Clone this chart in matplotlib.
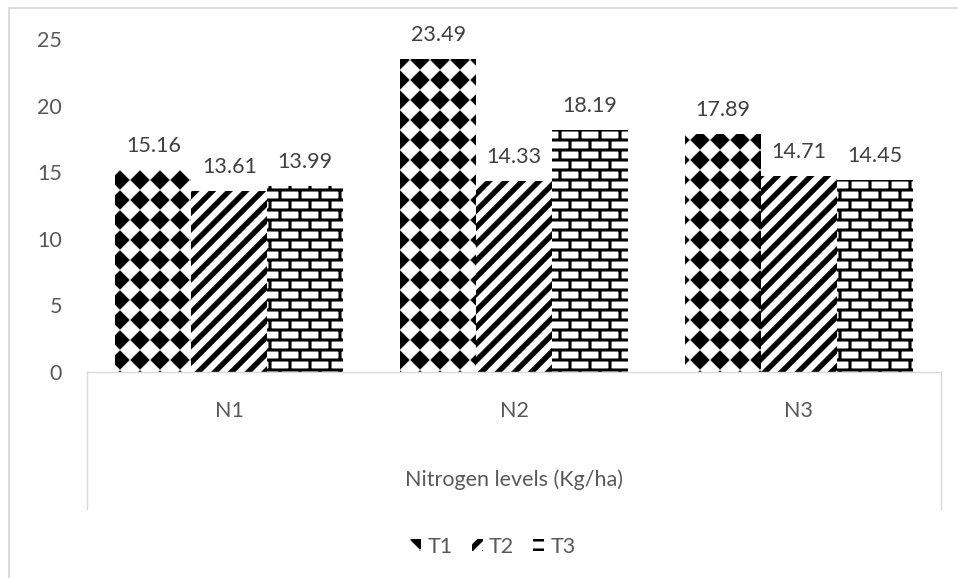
import warnings
import numpy as np
import matplotlib
matplotlib.use('Agg')
import matplotlib.pyplot as plt
import matplotlib.hatch as mhatch
from matplotlib.path import Path
from matplotlib.lines import Line2D

warnings.filterwarnings('ignore')

levels = ['N1', 'N2', 'N3']
series = ['T1', 'T2', 'T3']
T1 = [15.16, 23.49, 17.89]
T2 = [13.61, 14.33, 14.71]
T3 = [13.99, 18.19, 14.45]
yticks = [0, 5, 10, 15, 20, 25]


# custom fill patterns (Excel style), drawn as filled polygons in the hatch tile
class PolyHatch(mhatch.HatchPatternBase):
    char = None

    def __init__(self, hatch, density):
        self.polys = self.polygons() if (hatch and self.char in hatch) else []
        self.num_vertices = sum(len(p) + 1 for p in self.polys)

    def polygons(self):
        return []

    def set_vertices_and_codes(self, vertices, codes):
        i = 0
        for p in self.polys:
            n = len(p)
            vertices[i:i + n] = p
            vertices[i + n] = p[0]
            codes[i] = Path.MOVETO
            codes[i + 1:i + n] = Path.LINETO
            codes[i + n] = Path.CLOSEPOLY
            i += n + 1


class Diamonds(PolyHatch):
    char = 'd'

    def polygons(self):
        n = 5
        h = 0.47 / n
        out = []
        for i in range(n + 1):
            for j in range(n + 1):
                cx, cy = i / n, j / n
                out.append([(cx - h, cy), (cx, cy - h), (cx + h, cy), (cx, cy + h)])
        return out


class Stripes(PolyHatch):
    char = 's'

    def polygons(self):
        m = 6
        w = 0.42 / m
        out = []
        for k in range(-8, 8):
            c = k / m
            out.append([(c - 0.2, -0.2), (c + w - 0.2, -0.2),
                        (c + w + 1.2, 1.2), (c + 1.2, 1.2)])
        return out


class Bricks(PolyHatch):
    char = 'b'

    def polygons(self):
        rows, cols, t = 10, 5, 0.024
        out = []
        for j in range(rows + 1):
            y = j / rows
            out.append([(-0.1, y - t / 2), (1.1, y - t / 2), (1.1, y + t / 2), (-0.1, y + t / 2)])
        for j in range(rows):
            off = 0 if j % 2 == 0 else 0.5 / cols
            for i in range(-1, cols + 1):
                x = i / cols + off
                out.append([(x - t / 2, j / rows), (x + t / 2, j / rows),
                            (x + t / 2, (j + 1) / rows), (x - t / 2, (j + 1) / rows)])
        return out


mhatch._hatch_types.extend([Diamonds, Stripes, Bricks])

plt.rcParams['font.family'] = ['Lato', 'DejaVu Sans']
plt.rcParams['hatch.linewidth'] = 0.3
fs = 15.5

fig = plt.figure(figsize=(9.58, 5.78), dpi=100)
ax = fig.add_axes([87 / 958, 206 / 578, 854 / 958, 333 / 578])

x = np.arange(len(levels))
w = 0.8 / 3
bars = []
for i, (vals, h) in enumerate(zip([T1, T2, T3], ['d', 's', 'b'])):
    b = ax.bar(x + (i - 1) * w, vals, w, facecolor='white', edgecolor='black',
               linewidth=0, hatch=h, label=series[i])
    ax.bar_label(b, labels=['%.2f' % v for v in vals], padding=10,
                 fontsize=fs, color='#404040')
    bars.append(b)

ax.set_xlim(-0.5, 2.5)
ax.set_ylim(0, 25)
ax.set_yticks(yticks)
ax.set_xticks(x)
ax.set_xticklabels(levels)
ax.tick_params(axis='y', length=0, pad=18, labelsize=fs, labelcolor='#595959')
ax.tick_params(axis='x', length=0, pad=21, labelsize=fs, labelcolor='#595959')
for s in ['top', 'left', 'right']:
    ax.spines[s].set_visible(False)
ax.spines['bottom'].set_color('#d9d9d9')
ax.spines['bottom'].set_linewidth(1.0)

# category axis box
ax.plot([0, 0], [0, -0.411], transform=ax.transAxes, color='#d9d9d9', lw=1.0, clip_on=False)
ax.plot([1, 1], [0, -0.411], transform=ax.transAxes, color='#d9d9d9', lw=1.0, clip_on=False)
ax.text(0.5, -0.324, 'Nitrogen levels (Kg/ha)', transform=ax.transAxes, ha='center',
        va='center', fontsize=fs, color='#595959')

# chart area border
fig.add_artist(Line2D([9 / 958, 1], [1 - 8 / 578] * 2, transform=fig.transFigure,
                      color='#d9d9d9', lw=1.3))
fig.add_artist(Line2D([9 / 958] * 2, [0, 1 - 8 / 578], transform=fig.transFigure,
                      color='#d9d9d9', lw=1.3))

fig.legend(handles=bars, labels=series, loc='center', bbox_to_anchor=(493 / 958, 1 - 547 / 578),
           ncol=3, frameon=False, handlelength=0.5, handleheight=0.5, handletextpad=0.3,
           columnspacing=0.9, fontsize=fs, labelcolor='#595959')

fig.savefig('out.png', dpi=100)
